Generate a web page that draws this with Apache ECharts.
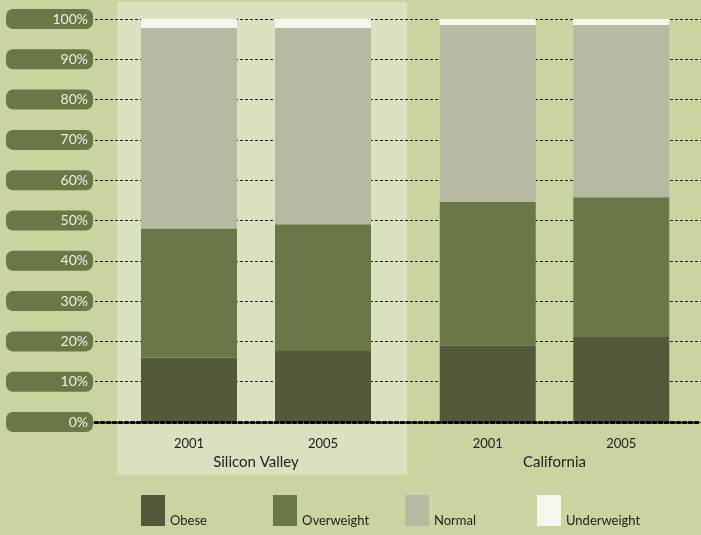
<!DOCTYPE html>
<html>
<head>
<meta charset="utf-8">
<script src="https://cdn.jsdelivr.net/npm/echarts@6/dist/echarts.min.js"></script>
<style>html,body{margin:0;padding:0;background:#c8d5a0;}#c{width:701px;height:535px;}</style>
</head>
<body>
<div id="c"></div>
<script>
// ---- data ----
const years = ['2001', '2005'];
const regions = ['Silicon Valley', 'California'];
const seriesNames = ['Obese', 'Overweight', 'Normal', 'Underweight'];
const svObese = [16.0, 17.6];
const svOverweight = [32.0, 31.5];
const svNormal = [49.8, 48.7];
const svUnderweight = [2.2, 2.2];
const caObese = [18.9, 21.1];
const caOverweight = [35.7, 34.7];
const caNormal = [43.9, 42.7];
const caUnderweight = [1.5, 1.5];
const yTicks = [0, 10, 20, 30, 40, 50, 60, 70, 80, 90, 100];

const colors = ['#535a3a', '#6a7848', '#b5baa3', '#f3f7ec'];
const fontFam = 'Lato, "Open Sans", sans-serif';

const chart = echarts.init(document.getElementById('c'));
const TOP = 19, BOTTOM = 113;

const regionData = [
  [svObese, svOverweight, svNormal, svUnderweight],
  [caObese, caOverweight, caNormal, caUnderweight]
];

const series = [];
regionData.forEach((rd, gi) => {
  rd.forEach((vals, si) => {
    series.push({
      name: seriesNames[si],
      type: 'bar',
      stack: 'r' + gi,
      xAxisIndex: gi + 1,
      yAxisIndex: gi + 1,
      barWidth: 96,
      data: vals,
      itemStyle: { color: colors[si] },
      z: 3
    });
  });
});

const legendLefts = [141, 273, 405, 537];
const legends = seriesNames.map((n, i) => ({
  data: [n],
  left: legendLefts[i],
  top: 495,
  itemWidth: 24,
  itemHeight: 31,
  itemGap: 0,
  padding: 0,
  icon: 'rect',
  selectedMode: false,
  formatter: name => '{b|' + name + '}',
  textStyle: {
    color: '#222', fontSize: 13, fontFamily: fontFam,
    rich: { b: { color: '#222', fontSize: 13, fontFamily: fontFam, padding: [21, 0, 0, 0] } }
  }
}));

chart.setOption({
  backgroundColor: '#c8d5a0',
  animation: false,
  graphic: [{
    type: 'rect', z: -10, silent: true,
    shape: { x: 117, y: 2, width: 290, height: 473 },
    style: { fill: '#d9e2be' }
  }],
  legend: legends,
  grid: [
    { left: 95, right: 0, top: TOP, bottom: BOTTOM },
    { left: 122, width: 268, top: TOP, bottom: BOTTOM },
    { left: 421, width: 267, top: TOP, bottom: BOTTOM }
  ],
  xAxis: [
    { gridIndex: 0, type: 'category', data: [''], z: 10,
      axisLine: { show: true, lineStyle: { color: '#000', width: 3, type: 'dotted' } },
      axisTick: { show: false }, axisLabel: { show: false } },
    { gridIndex: 1, type: 'category', data: years, name: regions[0],
      nameLocation: 'middle', nameGap: 33,
      nameTextStyle: { color: '#222', fontSize: 15, fontFamily: fontFam },
      axisLine: { show: false }, axisTick: { show: false },
      axisLabel: { color: '#222', fontSize: 13, fontFamily: fontFam, margin: 15 } },
    { gridIndex: 2, type: 'category', data: years, name: regions[1],
      nameLocation: 'middle', nameGap: 33,
      nameTextStyle: { color: '#222', fontSize: 15, fontFamily: fontFam },
      axisLine: { show: false }, axisTick: { show: false },
      axisLabel: { color: '#222', fontSize: 13, fontFamily: fontFam, margin: 15 } }
  ],
  yAxis: [
    { gridIndex: 0, type: 'value', min: yTicks[0], max: yTicks[yTicks.length - 1], interval: 10,
      axisLine: { show: false }, axisTick: { show: false },
      splitLine: { show: true, lineStyle: { color: '#222', width: 1, type: [3, 2] } },
      axisLabel: {
        formatter: v => v + '%',
        color: '#eef2e0', fontSize: 14, fontFamily: fontFam,
        backgroundColor: '#6a7848', borderRadius: 7,
        width: 80, align: 'right', padding: [3, 5, 3, 2], margin: 2, lineHeight: 14
      } },
    { gridIndex: 1, type: 'value', min: 0, max: 100, show: false },
    { gridIndex: 2, type: 'value', min: 0, max: 100, show: false }
  ],
  series: series
});
</script>
</body>
</html>
